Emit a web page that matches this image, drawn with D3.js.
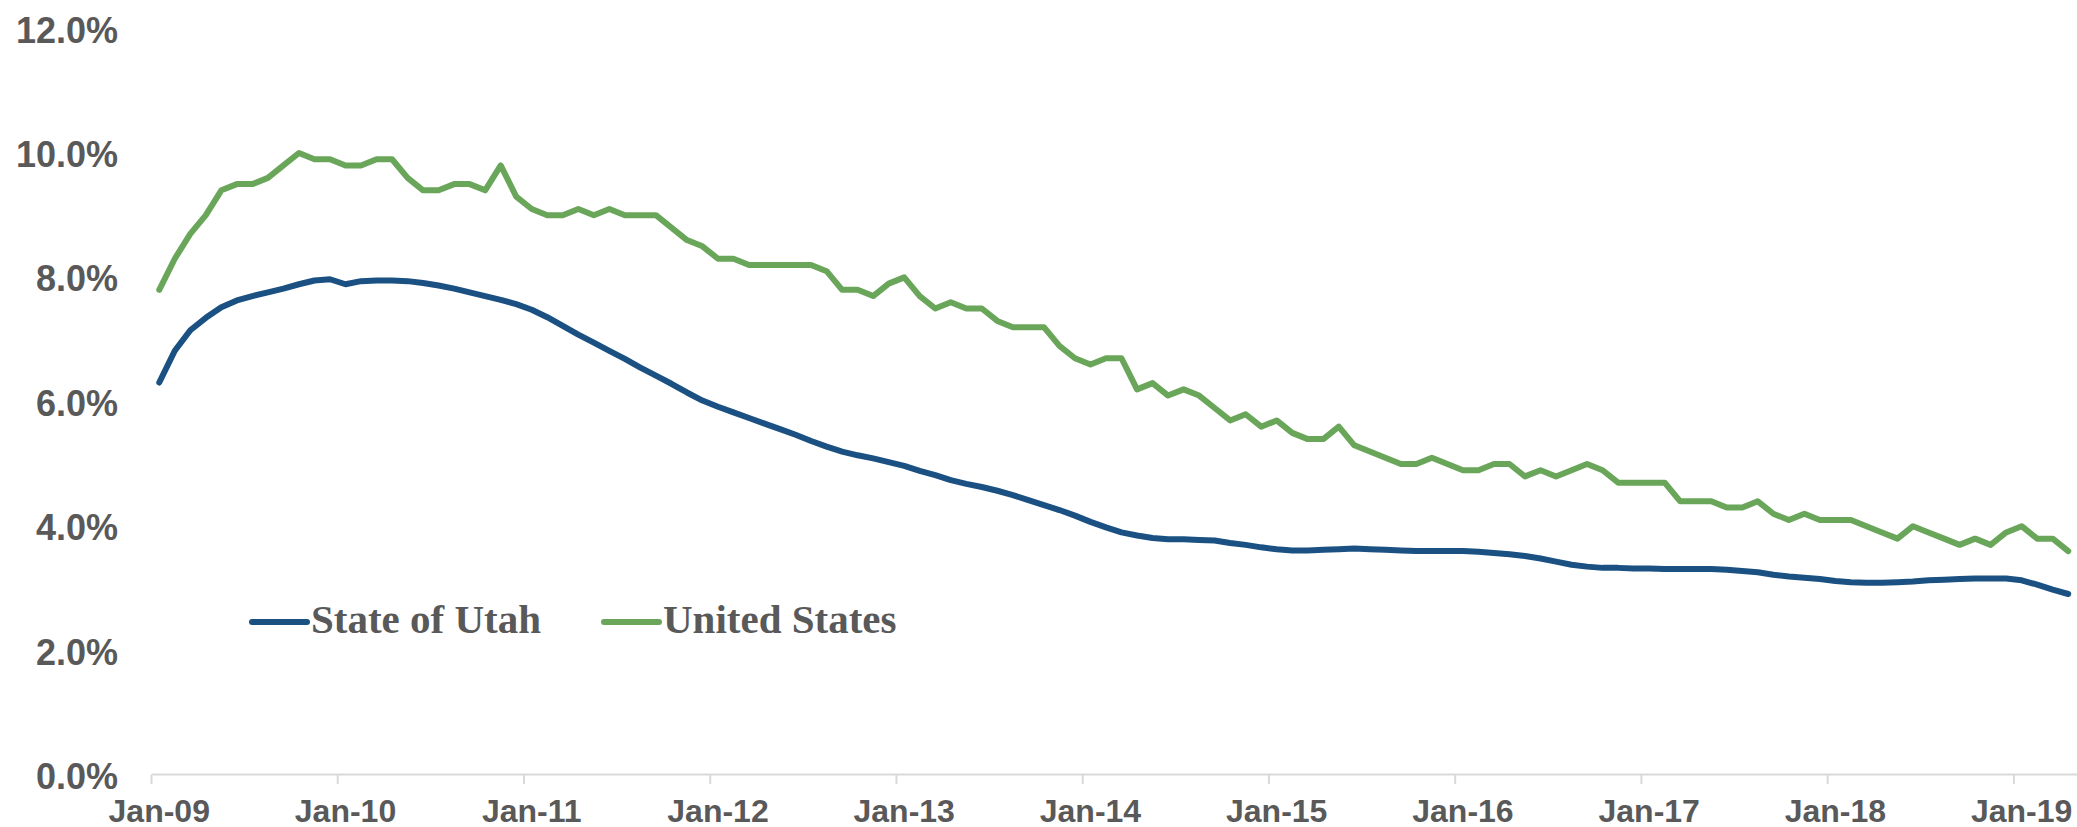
<!DOCTYPE html>
<html>
<head>
<meta charset="utf-8">
<script src="https://cdnjs.cloudflare.com/ajax/libs/d3/7.8.5/d3.min.js"></script>
<style>
  body { margin: 0; background: #fff; }
  .tick-label { font-family: "Liberation Sans", Arial, sans-serif; font-weight: bold; fill: #595959; }
  .legend-text { font-family: "Liberation Serif", "Times New Roman", serif; font-weight: bold; fill: #595959; }
</style>
</head>
<body>
<div id="chart"></div>
<script>
// x axis labels, one per January
var tickLabels = ["Jan-09","Jan-10","Jan-11","Jan-12","Jan-13","Jan-14","Jan-15","Jan-16","Jan-17","Jan-18","Jan-19"];

var yTicks = [0, 2, 4, 6, 8, 10, 12];

// monthly unemployment rate, Jan-09 .. Apr-19
var utah = [
  6.31,6.82,7.15,7.35,7.52,7.63,7.70,7.76,7.82,7.89,7.95,7.97,
  7.89,7.94,7.95,7.95,7.94,7.91,7.87,7.82,7.76,7.70,7.64,7.57,
  7.48,7.36,7.22,7.08,6.95,6.82,6.69,6.55,6.42,6.29,6.15,6.02,
  5.92,5.83,5.74,5.65,5.56,5.47,5.37,5.28,5.20,5.14,5.09,5.03,
  4.97,4.89,4.82,4.74,4.68,4.63,4.57,4.50,4.42,4.34,4.26,4.17,
  4.07,3.98,3.90,3.85,3.81,3.79,3.79,3.78,3.77,3.73,3.70,3.66,
  3.63,3.61,3.61,3.62,3.63,3.64,3.63,3.62,3.61,3.60,3.60,3.60,
  3.60,3.59,3.57,3.55,3.52,3.48,3.43,3.38,3.35,3.33,3.33,3.32,
  3.32,3.31,3.31,3.31,3.31,3.30,3.28,3.26,3.22,3.19,3.17,3.15,
  3.12,3.10,3.09,3.09,3.10,3.11,3.13,3.14,3.15,3.16,3.16,3.16,
  3.13,3.06,2.98,2.91
];

var us = [
  7.8,8.3,8.7,9.0,9.4,9.5,9.5,9.6,9.8,10.0,9.9,9.9,
  9.8,9.8,9.9,9.9,9.6,9.4,9.4,9.5,9.5,9.4,9.8,9.3,
  9.1,9.0,9.0,9.1,9.0,9.1,9.0,9.0,9.0,8.8,8.6,8.5,
  8.3,8.3,8.2,8.2,8.2,8.2,8.2,8.1,7.8,7.8,7.7,7.9,
  8.0,7.7,7.5,7.6,7.5,7.5,7.3,7.2,7.2,7.2,6.9,6.7,
  6.6,6.7,6.7,6.2,6.3,6.1,6.2,6.1,5.9,5.7,5.8,5.6,
  5.7,5.5,5.4,5.4,5.6,5.3,5.2,5.1,5.0,5.0,5.1,5.0,
  4.9,4.9,5.0,5.0,4.8,4.9,4.8,4.9,5.0,4.9,4.7,4.7,
  4.7,4.7,4.4,4.4,4.4,4.3,4.3,4.4,4.2,4.1,4.2,4.1,
  4.1,4.1,4.0,3.9,3.8,4.0,3.9,3.8,3.7,3.8,3.7,3.9,
  4.0,3.8,3.8,3.6
];

var seriesNames = ["State of Utah", "United States"];
var seriesColors = ["#1a5182", "#6aa65a"];

var width = 2077, height = 827;
var plotLeft = 151.5, plotBottom = 775, plotTop = 28.6;
var monthStep = 15.52;

var svg = d3.select("#chart").append("svg")
    .attr("width", width)
    .attr("height", height);

var x = d3.scaleBand()
    .domain(d3.range(us.length))
    .range([plotLeft, plotLeft + monthStep * us.length]);

var y = d3.scaleLinear()
    .domain([0, 12])
    .range([plotBottom, plotTop]);

// y labels (no gridlines in the original)
svg.append("g").selectAll("text")
    .data(yTicks)
  .enter().append("text")
    .attr("class", "tick-label")
    .attr("x", 118)
    .attr("y", function(d) { return y(d); })
    .attr("dy", "0.39em")
    .style("font-size", "36px")
    .style("text-anchor", "end")
    .text(function(d) { return d.toFixed(1) + "%"; });

// x axis line + ticks between categories
var tickIdx = tickLabels.map(function(d, i) { return i * 12; });

svg.append("line")
    .attr("x1", plotLeft)
    .attr("x2", width)
    .attr("y1", plotBottom - 0.5)
    .attr("y2", plotBottom - 0.5)
    .style("stroke", "#d9d9d9")
    .style("stroke-width", 2);

svg.append("g").selectAll("line")
    .data(tickIdx)
  .enter().append("line")
    .attr("x1", function(d) { return x(d); })
    .attr("x2", function(d) { return x(d); })
    .attr("y1", plotBottom)
    .attr("y2", plotBottom + 9)
    .style("stroke", "#d9d9d9")
    .style("stroke-width", 2);

svg.append("g").selectAll("text")
    .data(tickIdx)
  .enter().append("text")
    .attr("class", "tick-label")
    .attr("x", function(d) { return x(d) + x.bandwidth() / 2; })
    .attr("y", 822)
    .style("font-size", "32px")
    .style("text-anchor", "middle")
    .text(function(d, i) { return tickLabels[i]; });

var line = d3.line()
    .x(function(d, i) { return x(i) + x.bandwidth() / 2; })
    .y(function(d) { return y(d); });

[us, utah].forEach(function(s, k) {
  svg.append("path")
      .datum(s)
      .attr("d", line)
      .style("fill", "none")
      .style("stroke", seriesColors[1 - k])
      .style("stroke-width", 6)
      .style("stroke-linejoin", "round")
      .style("stroke-linecap", "round");
});

// legend
var legendX = [252, 604];
var legend = svg.append("g").selectAll("g")
    .data(seriesNames)
  .enter().append("g")
    .attr("transform", function(d, i) { return "translate(" + legendX[i] + ",622)"; });

legend.append("line")
    .attr("x1", 0)
    .attr("x2", 55)
    .style("stroke", function(d, i) { return seriesColors[i]; })
    .style("stroke-width", 6)
    .style("stroke-linecap", "round");

legend.append("text")
    .attr("class", "legend-text")
    .attr("x", 59)
    .attr("y", 11)
    .style("font-size", "41px")
    .text(function(d) { return d; });
</script>
</body>
</html>
